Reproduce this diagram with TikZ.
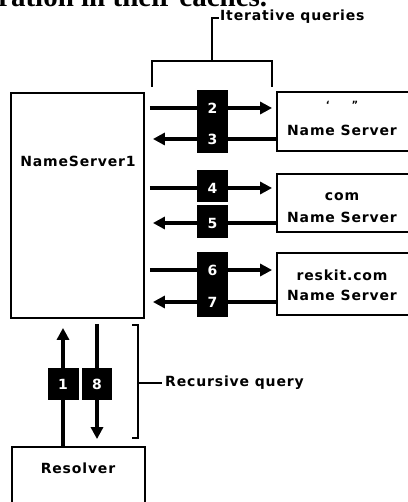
\documentclass[tikz,border=0pt]{standalone}
\usepackage{fontspec}
\setmainfont{DejaVu Sans}[LetterSpace=6]
\newfontfamily\topfont{Liberation Serif}
\usetikzlibrary{arrows.meta,calc}
\begin{document}
\begin{tikzpicture}[x=1pt,y=-1pt,
  box/.style={draw, line width=1.8pt, inner sep=0pt, fill=white},
  lbl/.style={font=\fontsize{14}{16}\selectfont\bfseries, inner sep=0pt},
  blk/.style={fill=black, draw=none, inner sep=0pt},
  num/.style={text=white, font=\fontsize{14}{16}\selectfont\bfseries, inner sep=0pt},
  arr/.style={line width=3.8pt, -{Triangle[length=12pt,width=12pt]}},
  brk/.style={line width=2.5pt}]
\useasboundingbox (0,0) rectangle (407,502);

% cut-off text at the top
\node[anchor=base west, inner sep=0pt, font=\topfont\bfseries\fontsize{29}{31}\selectfont] (toptext) at (-2,7) {ration in their caches.};

% boxes
\node[box, minimum width=133pt, minimum height=225pt] (ns1) at (77.5,205.5) {};
\node[lbl] (ns1t) at (78,161) {NameServer1};
\node[box, minimum width=133pt, minimum height=76pt] (res) at (78.5,485) {};
\node[lbl] (rest) at (78,468) {Resolver};

\node[box, minimum width=146pt, minimum height=59pt] (root) at (350,121.5) {};
\node[inner sep=0pt, font=\fontsize{10}{10}\selectfont\bfseries] (roott1) at (342,105) {`\hspace{22pt}"};
\node[lbl] (roott2) at (342,130) {Name Server};

\node[box, minimum width=146pt, minimum height=58pt] (com) at (350,203) {};
\node[lbl] (comt1) at (342,197) {com};
\node[lbl] (comt2) at (342,217) {Name Server};

\node[box, minimum width=146pt, minimum height=62pt] (reskit) at (350,284) {};
\node[lbl] (reskitt1) at (342,275) {reskit.com};
\node[lbl] (reskitt2) at (342,295) {Name Server};

% number positions
\coordinate (c2) at (212.5,108);
\coordinate (c3) at (212.5,139);
\coordinate (c4) at (212.5,188);
\coordinate (c5) at (212.5,223);
\coordinate (c6) at (212.5,270);
\coordinate (c7) at (212.5,302);
\coordinate (c1) at (63,384);
\coordinate (c8) at (97,384);

% arrows
\draw[arr, shorten <=5pt, shorten >=4pt] (ns1.east |- c2) -- (root.west |- c2);
\draw[arr, shorten <=0pt, shorten >=8pt] (root.west |- c3) -- (ns1.east |- c3);
\draw[arr, shorten <=5pt, shorten >=4pt] (ns1.east |- c4) -- (com.west |- c4);
\draw[arr, shorten <=0pt, shorten >=8pt] (com.west |- c5) -- (ns1.east |- c5);
\draw[arr, shorten <=5pt, shorten >=4pt] (ns1.east |- c6) -- (reskit.west |- c6);
\draw[arr, shorten <=0pt, shorten >=8pt] (reskit.west |- c7) -- (ns1.east |- c7);
\draw[arr, shorten <=0pt, shorten >=9pt] (res.north -| c1) -- (ns1.south -| c1);
\draw[arr, shorten <=5pt, shorten >=7pt] (ns1.south -| c8) -- (res.north -| c8);

% black number boxes
\node[blk, minimum width=31pt, minimum height=63pt] (b23) at (212.5,121.5) {};
\node[blk, minimum width=31pt, minimum height=32pt] (b4) at (212.5,186) {};
\node[blk, minimum width=31pt, minimum height=33pt] (b5) at (212.5,221.5) {};
\node[blk, minimum width=31pt, minimum height=65pt] (b67) at (212.5,284.5) {};
\node[blk, minimum width=31pt, minimum height=32pt] (b1) at (63.5,384) {};
\node[blk, minimum width=30pt, minimum height=32pt] (b8) at (97,384) {};
\node[num] (n2) at (c2) {2};
\node[num] (n3) at (c3) {3};
\node[num] (n4) at (c4) {4};
\node[num] (n5) at (c5) {5};
\node[num] (n6) at (c6) {6};
\node[num] (n7) at (c7) {7};
\node[num] (n1) at (c1) {1};
\node[num] (n8) at (c8) {8};

% iterative bracket
\coordinate (itl) at (152,87);
\coordinate (itr) at (272,87);
\coordinate (itstem) at (212,61);
\coordinate (ittop) at (212,18);
\draw[brk] (itl) -- (itl |- itstem) -- (itr |- itstem) -- (itr);
\draw[brk] (itstem) -- (ittop) -- ++(7,0) coordinate (itend);
\node[lbl, anchor=west] (itt) at ([xshift=1pt,yshift=1pt]itend) {Iterative queries};

% recursive bracket
\coordinate (rtop) at (138,325);
\coordinate (rbot) at (138,438);
\coordinate (rmid) at (138,383);
\draw[brk] ([xshift=-6pt]rtop) -- (rtop) -- (rbot) -- ([xshift=-6pt]rbot);
\draw[brk] (rmid) -- ++(24,0) coordinate (rend);
\node[lbl, anchor=west] (rt) at ([xshift=3pt]rend) {Recursive query};
\end{tikzpicture}
\end{document}
